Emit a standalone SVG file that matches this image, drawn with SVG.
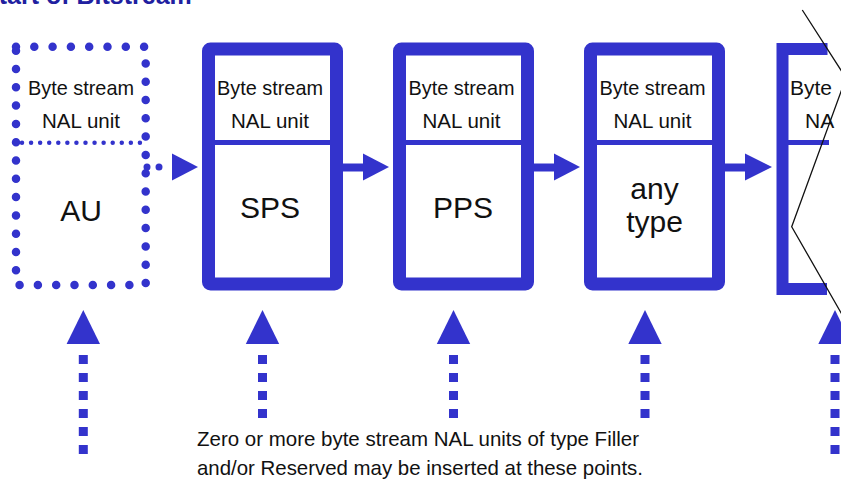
<svg xmlns="http://www.w3.org/2000/svg" width="841" height="481" viewBox="0 0 841 481">
<style>
.box{fill:#fff;stroke:#3333cc;stroke-width:13;stroke-linejoin:round}
.div{stroke:#3333cc;stroke-width:5}
.lbl{font-family:"Liberation Sans",Arial,sans-serif;font-size:21px;fill:#111;text-anchor:middle}
.big{font-family:"Liberation Sans",Arial,sans-serif;font-size:30px;fill:#111;text-anchor:middle}
.note{font-family:"Liberation Sans",Arial,sans-serif;font-size:21px;fill:#111}
.shaft{stroke:#3333cc;stroke-width:8}
.head{fill:#3333cc}
.stem{stroke:#3333cc;stroke-width:9;stroke-dasharray:9 9}
</style>
<text x="-18" y="4" font-family="Liberation Sans, Arial, sans-serif" font-size="25" font-weight="bold" fill="#2020a0">Start of Bitstream</text>
<g id="connectors">
<line x1="147" y1="167" x2="171" y2="167" stroke="#3333cc" stroke-width="7" stroke-linecap="round" stroke-dasharray="0 12"/>
<polygon class="head" points="172,153.5 198,167 172,180.5"/>
<line class="shaft" x1="342" y1="167.5" x2="364" y2="167.5"/>
<polygon class="head" points="363,153.5 389,167 363,180.5"/>
<line class="shaft" x1="532" y1="167.5" x2="555" y2="167.5"/>
<polygon class="head" points="554,153.5 580,167 554,180.5"/>
<line class="shaft" x1="723" y1="167.5" x2="746" y2="167.5"/>
<polygon class="head" points="745,153.5 772,167 745,180.5"/>
<g id="insert-arrows">
<polygon class="head" points="83.3,310 100,344 66.6,344"/>
<line class="stem" x1="83.3" y1="355" x2="83.3" y2="454"/>
<polygon class="head" points="262.5,310 279.2,344 245.8,344"/>
<line class="stem" x1="262.5" y1="355" x2="262.5" y2="418"/>
<polygon class="head" points="453.5,310 470.2,344 436.8,344"/>
<line class="stem" x1="453.5" y1="355" x2="453.5" y2="418"/>
<polygon class="head" points="645,310 661.7,344 628.3,344"/>
<line class="stem" x1="645" y1="355" x2="645" y2="418"/>
<polygon class="head" points="835,310 851.7,344 818.3,344"/>
<line class="stem" x1="835" y1="355" x2="835" y2="454"/>
</g>
</g>
<g id="node-au">
<path d="M16,46.7 H145.7 V285 H16 Z" fill="none" stroke="#3333cc" stroke-width="8.5" stroke-linecap="round" stroke-dasharray="0 18.3"/>
<line x1="22" y1="142.7" x2="140" y2="142.7" stroke="#3333cc" stroke-width="4.5" stroke-linecap="round" stroke-dasharray="0 9.07"/>
<text class="lbl" x="81" y="95" textLength="106" lengthAdjust="spacingAndGlyphs">Byte stream</text>
<text class="lbl" x="81" y="128" textLength="78" lengthAdjust="spacingAndGlyphs">NAL unit</text>
<text class="big" x="81" y="221">AU</text>
</g>
<g id="node-sps">
<rect class="box" x="208.5" y="49" width="128" height="235" rx="2"/>
<line class="div" x1="215" y1="142.5" x2="330" y2="142.5"/>
<text class="lbl" x="270" y="95" textLength="106" lengthAdjust="spacingAndGlyphs">Byte stream</text>
<text class="lbl" x="270" y="128" textLength="78" lengthAdjust="spacingAndGlyphs">NAL unit</text>
<text class="big" x="270" y="218">SPS</text>
</g>
<g id="node-pps">
<rect class="box" x="399.5" y="49" width="128" height="235" rx="2"/>
<line class="div" x1="406" y1="142.5" x2="521" y2="142.5"/>
<text class="lbl" x="461.5" y="95" textLength="106" lengthAdjust="spacingAndGlyphs">Byte stream</text>
<text class="lbl" x="461.5" y="128" textLength="78" lengthAdjust="spacingAndGlyphs">NAL unit</text>
<text class="big" x="463" y="218">PPS</text>
</g>
<g id="node-any">
<rect class="box" x="590.5" y="49" width="128" height="235" rx="2"/>
<line class="div" x1="597" y1="142.5" x2="712" y2="142.5"/>
<text class="lbl" x="652.5" y="95" textLength="106" lengthAdjust="spacingAndGlyphs">Byte stream</text>
<text class="lbl" x="652.5" y="128" textLength="78" lengthAdjust="spacingAndGlyphs">NAL unit</text>
<text class="big" x="654.5" y="199">any</text>
<text class="big" x="654.5" y="232">type</text>
</g>
<g id="node-partial">
<path d="M827.5,49 H782.5 V289 H827" fill="none" stroke="#3333cc" stroke-width="12"/>
<line class="div" x1="788" y1="142.5" x2="829" y2="142.5"/>
<text class="note" x="790" y="95">Byte</text>
<text class="note" x="805" y="128">NA</text>
<polyline points="802.3,10 846,78 791.7,226.7 848,325" fill="none" stroke="#111" stroke-width="1.3"/>
</g>
<text class="note" x="197" y="446" textLength="442" lengthAdjust="spacingAndGlyphs">Zero or more byte stream NAL units of type Filler</text>
<text class="note" x="197" y="475" textLength="446" lengthAdjust="spacingAndGlyphs">and/or Reserved may be inserted at these points.</text>
</svg>
